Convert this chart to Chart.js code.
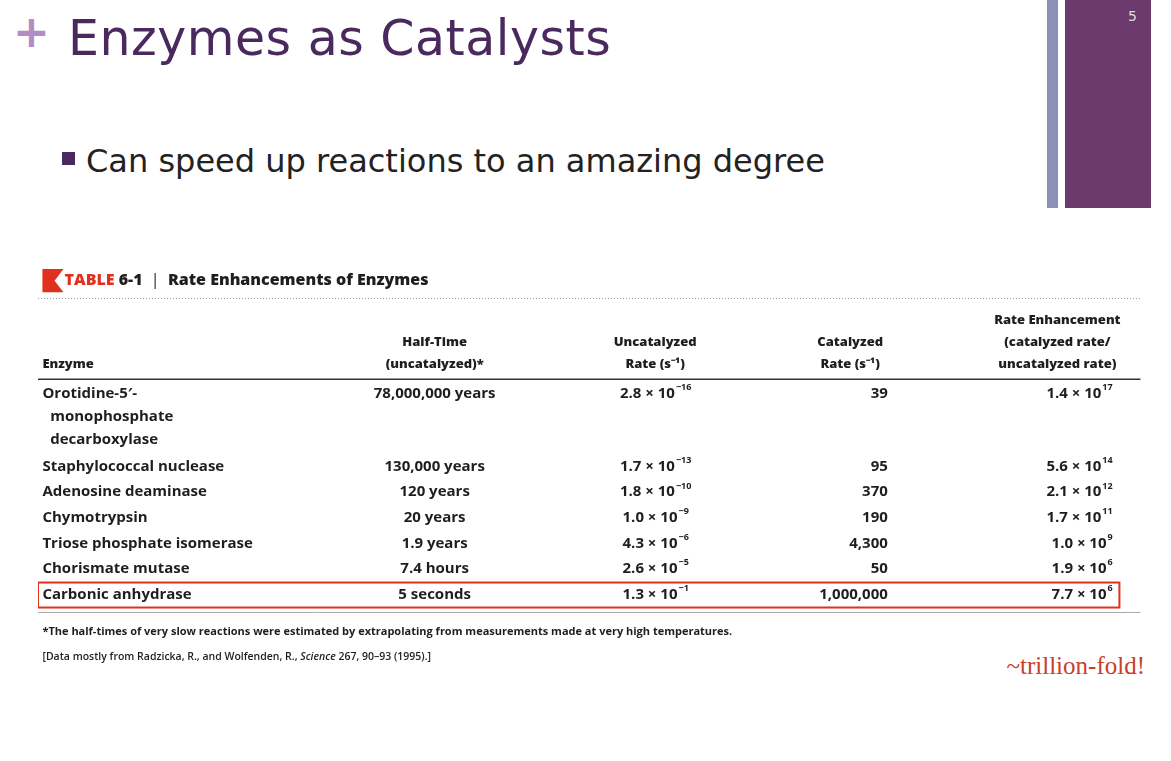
<!DOCTYPE html>
<html>
<head>
<meta charset="utf-8">
<script src="https://cdn.jsdelivr.net/npm/chart.js@4/dist/chart.umd.min.js"></script>
<style>
  body { margin: 0; width: 1171px; height: 761px; background: #fff; position: relative; overflow: hidden; font-family: "DejaVu Sans", sans-serif; }
  .plus { position: absolute; left: 13px; top: 6px; font-size: 44px; font-weight: bold; color: #b48cc4; }
  .title { position: absolute; left: 68px; top: 10px; font-size: 49px; color: #4a2a5e; letter-spacing: 0.5px; }
  .bullet { position: absolute; left: 62px; top: 152px; width: 13px; height: 13px; background: #4a2a5e; }
  .btext { position: absolute; left: 86px; top: 142px; font-size: 32px; color: #222; }
  .bar1 { position: absolute; left: 1047px; top: 0; width: 11px; height: 208px; background: #8c90b8; }
  .bar2 { position: absolute; left: 1065px; top: 0; width: 86px; height: 208px; background: #6c3a6c; }
  .num { position: absolute; left: 1128px; top: 8px; font-size: 14px; color: #ddd; }
  .trill { position: absolute; right: 26px; top: 652px; font-family: "Liberation Serif", serif; font-size: 25px; color: #c8402c; }
  #wrap { position: absolute; left: 38px; top: 255px; width: 1108px; height: 410px; }
</style>
</head>
<body>
<div class="plus">+</div>
<div class="title">Enzymes as Catalysts</div>
<div class="bullet"></div>
<div class="btext">Can speed up reactions to an amazing degree</div>
<div class="bar1"></div><div class="bar2"></div><div class="num">5</div>
<div class="trill">~trillion-fold!</div>
<div id="wrap"><canvas id="table"></canvas></div>
<script>
// table data
const enzymes = [["Orotidine-5\u2032-", "  monophosphate", "  decarboxylase"], ["Staphylococcal nuclease"], ["Adenosine deaminase"],
  ["Chymotrypsin"], ["Triose phosphate isomerase"], ["Chorismate mutase"], ["Carbonic anhydrase"]];
const halfTime = ["78,000,000 years", "130,000 years", "120 years", "20 years", "1.9 years", "7.4 hours", "5 seconds"];
const uncatMant = ["2.8", "1.7", "1.8", "1.0", "4.3", "2.6", "1.3"];
const uncatExp = ["\u221216", "\u221213", "\u221210", "\u22129", "\u22126", "\u22125", "\u22121"];
const catRate = ["39", "95", "370", "190", "4,300", "50", "1,000,000"];
const enhMant = ["1.4", "5.6", "2.1", "1.7", "1.0", "1.9", "7.7"];
const enhExp = ["17", "14", "12", "11", "9", "6", "6"];
const headers = [["", "", "Enzyme"], ["", "Half-Time", "(uncatalyzed)*"], ["", "Uncatalyzed", "Rate (s\u207B\u00B9)"],
  ["", "Catalyzed", "Rate (s\u207B\u00B9)"], ["Rate Enhancement", "(catalyzed rate/", "uncatalyzed rate)"]];
const highlightRow = 6;

// layout (line units on y, percent on x)
const colX = [0.4, 35.8, 55.7, 76.7, 96.9];
const colAlign = ["left", "center", "center", "right", "right"];
const headX = [0.4, 35.8, 55.7, 73.3, 92.0];
const headAlign = ["left", "center", "center", "center", "center"];
const lineStep = 0.9;
let rowY = [], y = 5.4;
enzymes.forEach(e => { rowY.push(y); y += (e.length - 1) * lineStep + 1.0 + (e.length > 1 ? 0.05 : 0); });

const dark = "#1e1e1e";
const bold = "700 15px 'Open Sans'";

function sci(ctx, x, yy, mant, exp, align) {
  ctx.font = bold;
  const base = mant + " \u00D7 10";
  ctx.font = "700 9px 'Open Sans'";
  const ew = ctx.measureText(exp).width;
  ctx.font = bold;
  const bw = ctx.measureText(base).width;
  let left = align === "center" ? x - (bw + ew) / 2 : x - bw - ew;
  ctx.textAlign = "left";
  ctx.fillText(base, left, yy);
  ctx.font = "700 9px 'Open Sans'";
  ctx.fillText(exp, left + bw + 1, yy - 6);
}

const tablePlugin = {
  id: "tablePlugin",
  afterDatasetsDraw(chart) {
    const ctx = chart.ctx, sx = chart.scales.x, sy = chart.scales.y;
    const meta = chart.getDatasetMeta(0);
    const X = v => sx.getPixelForValue(v), Y = v => sy.getPixelForValue(v);
    ctx.save();
    ctx.textBaseline = "middle";
    // title bar
    ctx.fillStyle = "#e0301e";
    ctx.beginPath();
    ctx.moveTo(X(0.4), Y(0.55)); ctx.lineTo(X(2.3), Y(0.55)); ctx.lineTo(X(1.5), Y(1.0));
    ctx.lineTo(X(2.3), Y(1.45)); ctx.lineTo(X(0.4), Y(1.45)); ctx.closePath(); ctx.fill();
    ctx.font = "800 16px 'Open Sans'"; ctx.textAlign = "left";
    ctx.fillText("TABLE", X(2.4), Y(1.0));
    let tx = X(2.4) + ctx.measureText("TABLE ").width;
    ctx.fillStyle = dark; ctx.fillText("6-1", tx, Y(1.0));
    tx += ctx.measureText("6-1  ").width;
    ctx.font = "400 16px 'Open Sans'"; ctx.fillText("|", tx, Y(1.0));
    tx += ctx.measureText("|  ").width;
    ctx.font = "800 16px 'Open Sans'"; ctx.fillText("Rate Enhancements of Enzymes", tx, Y(1.0));
    // rules
    ctx.strokeStyle = "#999"; ctx.setLineDash([1, 2]); ctx.lineWidth = 1;
    ctx.beginPath(); ctx.moveTo(X(0), Y(1.7)); ctx.lineTo(X(99.5), Y(1.7)); ctx.stroke();
    ctx.setLineDash([]);
    ctx.strokeStyle = "#333"; ctx.lineWidth = 1.5;
    ctx.beginPath(); ctx.moveTo(X(0), Y(4.85)); ctx.lineTo(X(99.5), Y(4.85)); ctx.stroke();
    ctx.strokeStyle = "#aaa"; ctx.lineWidth = 1;
    ctx.beginPath(); ctx.moveTo(X(0), Y(13.95)); ctx.lineTo(X(99.5), Y(13.95)); ctx.stroke();
    // headers
    ctx.fillStyle = dark; ctx.font = "800 13px 'Open Sans'";
    headers.forEach((h, c) => {
      ctx.textAlign = headAlign[c];
      h.forEach((t, i) => ctx.fillText(t, X(headX[c]), Y(2.55 + i * 0.85)));
    });
    // rows
    meta.data.forEach((pt, r) => {
      const yy = pt.y;
      ctx.font = bold; ctx.fillStyle = dark;
      ctx.textAlign = "left";
      enzymes[r].forEach((t, i) => ctx.fillText(t, X(colX[0]), yy + Y(i * lineStep) - Y(0)));
      ctx.textAlign = colAlign[1]; ctx.fillText(halfTime[r], X(colX[1]), yy);
      sci(ctx, X(colX[2]), yy, uncatMant[r], uncatExp[r], "center");
      ctx.font = bold; ctx.textAlign = colAlign[3]; ctx.fillText(catRate[r], X(colX[3]), yy);
      sci(ctx, X(colX[4]), yy, enhMant[r], enhExp[r], "right");
      if (r === highlightRow) {
        ctx.strokeStyle = "#e0301e"; ctx.lineWidth = 2;
        ctx.strokeRect(X(0), yy - 12, X(97.6) - X(0), 25);
      }
    });
    // footnotes
    ctx.textAlign = "left"; ctx.fillStyle = dark;
    ctx.font = "700 11px 'Open Sans'";
    ctx.fillText("*The half-times of very slow reactions were estimated by extrapolating from measurements made at very high temperatures.", X(0.4), Y(14.7));
    let fx = X(0.4);
    const parts = [["[Data mostly from Radzicka, R., and Wolfenden, R., ", "600"], ["Science", "italic 600"], [" 267, 90\u201393 (1995).]", "600"]];
    parts.forEach(p => { ctx.font = p[1] + " 10.5px 'Open Sans'"; ctx.fillText(p[0], fx, Y(15.7)); fx += ctx.measureText(p[0]).width; });
    ctx.restore();
  }
};

new Chart(document.getElementById("table"), {
  type: "scatter",
  data: { datasets: [{ data: rowY.map(v => ({ x: 0, y: v })), pointRadius: 0 }] },
  options: {
    responsive: true, maintainAspectRatio: false, animation: false,
    layout: { padding: 0 },
    plugins: { legend: { display: false }, tooltip: { enabled: false } },
    scales: {
      x: { type: "linear", min: 0, max: 100, display: false },
      y: { type: "linear", min: 0, max: 16, reverse: true, display: false }
    }
  },
  plugins: [tablePlugin]
});
</script>
</body>
</html>
